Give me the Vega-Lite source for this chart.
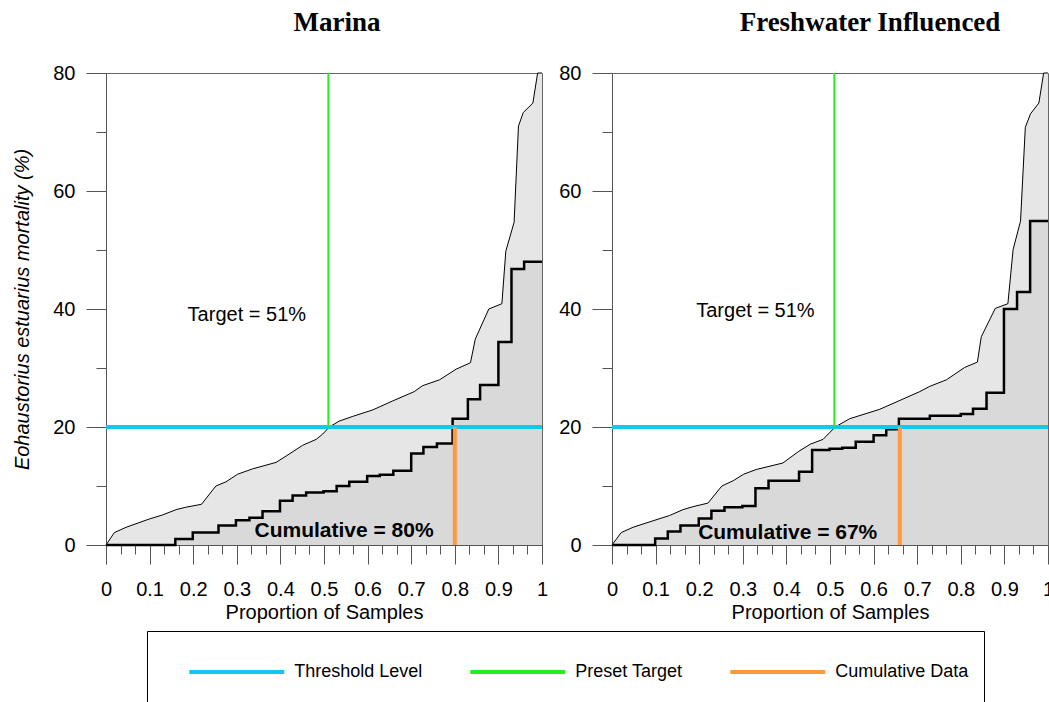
{
  "$schema": "https://vega.github.io/schema/vega-lite/v6.json",
  "padding": {"left": 12, "top": 8, "right": 0, "bottom": 0},
  "background": "white",
  "bounds": "flush",
  "spacing": 70,
  "config": {
    "view": {"stroke": "#666666", "strokeWidth": 1},
    "font": "Liberation Sans",
    "axis": {
      "grid": false, "domainColor": "#555555", "tickColor": "#555555",
      "labelColor": "black", "titleColor": "black",
      "labelFont": "Liberation Sans", "titleFont": "Liberation Sans",
      "labelFontSize": 20, "titleFontSize": 20, "titleFontWeight": "normal"
    },
    "title": {"font": "Liberation Serif", "fontSize": 27, "fontWeight": "bold", "color": "black", "anchor": "middle", "offset": 26}
  },
  "datasets": {
    "upper": [
      {"panel": "Marina", "x": 0, "y": 0}, {"panel": "Marina", "x": 0.019, "y": 2.1}, {"panel": "Marina", "x": 0.046, "y": 3.0}, {"panel": "Marina", "x": 0.099, "y": 4.4}, {"panel": "Marina", "x": 0.13, "y": 5.1}, {"panel": "Marina", "x": 0.161, "y": 6.0}, {"panel": "Marina", "x": 0.183, "y": 6.4}, {"panel": "Marina", "x": 0.219, "y": 6.9}, {"panel": "Marina", "x": 0.252, "y": 10.0}, {"panel": "Marina", "x": 0.275, "y": 10.7}, {"panel": "Marina", "x": 0.302, "y": 12.0}, {"panel": "Marina", "x": 0.336, "y": 12.9}, {"panel": "Marina", "x": 0.39, "y": 14.0}, {"panel": "Marina", "x": 0.42, "y": 15.4}, {"panel": "Marina", "x": 0.451, "y": 16.9}, {"panel": "Marina", "x": 0.482, "y": 17.9}, {"panel": "Marina", "x": 0.497, "y": 18.8}, {"panel": "Marina", "x": 0.512, "y": 20.0}, {"panel": "Marina", "x": 0.535, "y": 21.0}, {"panel": "Marina", "x": 0.566, "y": 21.8}, {"panel": "Marina", "x": 0.612, "y": 22.9}, {"panel": "Marina", "x": 0.657, "y": 24.4}, {"panel": "Marina", "x": 0.707, "y": 26.0}, {"panel": "Marina", "x": 0.726, "y": 27.0}, {"panel": "Marina", "x": 0.765, "y": 28.0}, {"panel": "Marina", "x": 0.803, "y": 29.8}, {"panel": "Marina", "x": 0.836, "y": 30.9}, {"panel": "Marina", "x": 0.847, "y": 34.9}, {"panel": "Marina", "x": 0.878, "y": 40.0}, {"panel": "Marina", "x": 0.908, "y": 40.9}, {"panel": "Marina", "x": 0.917, "y": 49.8}, {"panel": "Marina", "x": 0.936, "y": 54.7}, {"panel": "Marina", "x": 0.946, "y": 71.0}, {"panel": "Marina", "x": 0.957, "y": 73.3}, {"panel": "Marina", "x": 0.979, "y": 74.9}, {"panel": "Marina", "x": 0.99, "y": 80.0}, {"panel": "Marina", "x": 1.0, "y": 80.0},
      {"panel": "Fresh", "x": 0, "y": 0}, {"panel": "Fresh", "x": 0.021, "y": 2.1}, {"panel": "Fresh", "x": 0.048, "y": 3.0}, {"panel": "Fresh", "x": 0.094, "y": 4.1}, {"panel": "Fresh", "x": 0.132, "y": 5.0}, {"panel": "Fresh", "x": 0.163, "y": 6.0}, {"panel": "Fresh", "x": 0.186, "y": 6.5}, {"panel": "Fresh", "x": 0.22, "y": 7.1}, {"panel": "Fresh", "x": 0.252, "y": 10.0}, {"panel": "Fresh", "x": 0.278, "y": 10.9}, {"panel": "Fresh", "x": 0.302, "y": 12.0}, {"panel": "Fresh", "x": 0.331, "y": 12.8}, {"panel": "Fresh", "x": 0.392, "y": 13.9}, {"panel": "Fresh", "x": 0.427, "y": 15.8}, {"panel": "Fresh", "x": 0.455, "y": 17.1}, {"panel": "Fresh", "x": 0.484, "y": 17.9}, {"panel": "Fresh", "x": 0.512, "y": 20.0}, {"panel": "Fresh", "x": 0.545, "y": 21.4}, {"panel": "Fresh", "x": 0.614, "y": 23.0}, {"panel": "Fresh", "x": 0.706, "y": 26.0}, {"panel": "Fresh", "x": 0.729, "y": 26.9}, {"panel": "Fresh", "x": 0.767, "y": 28.0}, {"panel": "Fresh", "x": 0.809, "y": 30.1}, {"panel": "Fresh", "x": 0.838, "y": 31.0}, {"panel": "Fresh", "x": 0.847, "y": 35.3}, {"panel": "Fresh", "x": 0.879, "y": 40.1}, {"panel": "Fresh", "x": 0.908, "y": 40.9}, {"panel": "Fresh", "x": 0.92, "y": 50.1}, {"panel": "Fresh", "x": 0.937, "y": 54.9}, {"panel": "Fresh", "x": 0.948, "y": 70.8}, {"panel": "Fresh", "x": 0.96, "y": 73.1}, {"panel": "Fresh", "x": 0.979, "y": 74.9}, {"panel": "Fresh", "x": 0.99, "y": 80.0}, {"panel": "Fresh", "x": 1.0, "y": 80.0}
    ],
    "steps": [
      {"panel": "Marina", "x": 0, "y": 0}, {"panel": "Marina", "x": 0.159, "y": 1.0}, {"panel": "Marina", "x": 0.199, "y": 2.1}, {"panel": "Marina", "x": 0.258, "y": 3.3}, {"panel": "Marina", "x": 0.298, "y": 4.2}, {"panel": "Marina", "x": 0.329, "y": 4.6}, {"panel": "Marina", "x": 0.359, "y": 5.7}, {"panel": "Marina", "x": 0.399, "y": 7.5}, {"panel": "Marina", "x": 0.428, "y": 8.4}, {"panel": "Marina", "x": 0.459, "y": 8.9}, {"panel": "Marina", "x": 0.499, "y": 9.1}, {"panel": "Marina", "x": 0.529, "y": 10.0}, {"panel": "Marina", "x": 0.558, "y": 10.7}, {"panel": "Marina", "x": 0.599, "y": 11.7}, {"panel": "Marina", "x": 0.628, "y": 11.9}, {"panel": "Marina", "x": 0.659, "y": 12.6}, {"panel": "Marina", "x": 0.7, "y": 15.5}, {"panel": "Marina", "x": 0.728, "y": 16.6}, {"panel": "Marina", "x": 0.759, "y": 17.2}, {"panel": "Marina", "x": 0.795, "y": 21.4}, {"panel": "Marina", "x": 0.83, "y": 24.7}, {"panel": "Marina", "x": 0.858, "y": 27.1}, {"panel": "Marina", "x": 0.9, "y": 34.4}, {"panel": "Marina", "x": 0.93, "y": 46.8}, {"panel": "Marina", "x": 0.959, "y": 48.0}, {"panel": "Marina", "x": 1.0, "y": 48.0},
      {"panel": "Fresh", "x": 0, "y": 0}, {"panel": "Fresh", "x": 0.099, "y": 1.1}, {"panel": "Fresh", "x": 0.128, "y": 2.3}, {"panel": "Fresh", "x": 0.157, "y": 3.3}, {"panel": "Fresh", "x": 0.199, "y": 4.5}, {"panel": "Fresh", "x": 0.228, "y": 5.8}, {"panel": "Fresh", "x": 0.258, "y": 6.4}, {"panel": "Fresh", "x": 0.299, "y": 6.6}, {"panel": "Fresh", "x": 0.329, "y": 9.6}, {"panel": "Fresh", "x": 0.359, "y": 10.9}, {"panel": "Fresh", "x": 0.429, "y": 12.4}, {"panel": "Fresh", "x": 0.459, "y": 16.1}, {"panel": "Fresh", "x": 0.499, "y": 16.3}, {"panel": "Fresh", "x": 0.528, "y": 16.5}, {"panel": "Fresh", "x": 0.559, "y": 17.5}, {"panel": "Fresh", "x": 0.6, "y": 18.6}, {"panel": "Fresh", "x": 0.629, "y": 19.6}, {"panel": "Fresh", "x": 0.658, "y": 21.4}, {"panel": "Fresh", "x": 0.729, "y": 21.9}, {"panel": "Fresh", "x": 0.8, "y": 22.2}, {"panel": "Fresh", "x": 0.828, "y": 23.1}, {"panel": "Fresh", "x": 0.859, "y": 25.8}, {"panel": "Fresh", "x": 0.899, "y": 40.0}, {"panel": "Fresh", "x": 0.929, "y": 42.9}, {"panel": "Fresh", "x": 0.959, "y": 54.9}, {"panel": "Fresh", "x": 1.0, "y": 54.9}
    ],
    "refs": [
      {"panel": "Marina", "series": "Threshold Level", "x": 0, "x2": 1, "y": 20, "y2": 20},
      {"panel": "Marina", "series": "Preset Target", "x": 0.51, "x2": 0.51, "y": 20, "y2": 80},
      {"panel": "Marina", "series": "Cumulative Data", "x": 0.8, "x2": 0.8, "y": 0, "y2": 20},
      {"panel": "Fresh", "series": "Threshold Level", "x": 0, "x2": 1, "y": 20, "y2": 20},
      {"panel": "Fresh", "series": "Preset Target", "x": 0.51, "x2": 0.51, "y": 20, "y2": 80},
      {"panel": "Fresh", "series": "Cumulative Data", "x": 0.66, "x2": 0.66, "y": 0, "y2": 20}
    ],
    "notes": [
      {"panel": "Marina", "kind": "target", "label": "Target = 51%", "x": 0.323, "y": 38.0},
      {"panel": "Marina", "kind": "cumulative", "label": "Cumulative = 80%", "x": 0.546, "y": 1.4},
      {"panel": "Fresh", "kind": "target", "label": "Target = 51%", "x": 0.329, "y": 38.6},
      {"panel": "Fresh", "kind": "cumulative", "label": "Cumulative = 67%", "x": 0.403, "y": 1.0}
    ]
  },
  "hconcat": [
    {
      "width": 436, "height": 472,
      "title": {"text": "Marina", "dx": 13},
      "resolve": {"axis": {"x": "independent"}},
      "layer": [
        {
          "data": {"name": "upper"}, "transform": [{"filter": "datum.panel === 'Marina'"}],
          "mark": {"type": "area", "color": "#E6E6E6"},
          "encoding": {
            "x": {"field": "x", "type": "quantitative", "scale": {"domain": [0, 1], "nice": false},
              "axis": {"title": "Proportion of Samples", "orient": "bottom", "values": [0, 0.1, 0.2, 0.3, 0.4, 0.5, 0.6, 0.7, 0.8, 0.9, 1],
                "format": ".1~f", "tickSize": 19, "labelPadding": 15, "labelFlush": false, "labelOverlap": false, "titlePadding": 3}},
            "y": {"field": "y", "type": "quantitative", "stack": null, "scale": {"domain": [0, 80], "nice": false},
              "axis": {"title": "Eohaustorius estuarius mortality (%)", "titleFontStyle": "italic", "values": [0, 10, 20, 30, 40, 50, 60, 70, 80],
                "labelExpr": "datum.value % 20 === 0 ? datum.label : ''",
                "tickSize": {"condition": {"test": "datum.value % 20 === 0", "value": 20}, "value": 10},
                "labelPadding": 11, "labelOverlap": false, "titlePadding": 20}}
          }
        },
        {
          "data": {"name": "steps"}, "transform": [{"filter": "datum.panel === 'Marina'"}],
          "mark": {"type": "area", "color": "#D9D9D9", "interpolate": "step-after"},
          "encoding": {"x": {"field": "x", "type": "quantitative", "axis": null}, "y": {"field": "y", "type": "quantitative", "stack": null}}
        },
        {
          "data": {"name": "upper"}, "transform": [{"filter": "datum.panel === 'Marina'"}],
          "mark": {"type": "line", "color": "black", "strokeWidth": 1},
          "encoding": {
            "x": {"field": "x", "type": "quantitative",
              "axis": {"title": null, "orient": "bottom", "values": [0.0333333, 0.0666667, 0.1333333, 0.1666667, 0.2333333, 0.2666667, 0.3333333, 0.3666667, 0.4333333, 0.4666667, 0.5333333, 0.5666667, 0.6333333, 0.6666667, 0.7333333, 0.7666667, 0.8333333, 0.8666667, 0.9333333, 0.9666667],
                "tickSize": 9, "labels": false, "domain": false}},
            "y": {"field": "y", "type": "quantitative"}}
        },
        {
          "data": {"name": "steps"}, "transform": [{"filter": "datum.panel === 'Marina'"}],
          "mark": {"type": "line", "color": "black", "strokeWidth": 2.5, "interpolate": "step-after"},
          "encoding": {"x": {"field": "x", "type": "quantitative", "axis": null}, "y": {"field": "y", "type": "quantitative"}}
        },
        {
          "data": {"name": "refs"}, "transform": [{"filter": "datum.panel === 'Marina' && datum.series !== 'Preset Target'"}],
          "mark": {"type": "rule", "strokeWidth": 4},
          "encoding": {
            "x": {"field": "x", "type": "quantitative", "axis": null}, "x2": {"field": "x2"},
            "y": {"field": "y", "type": "quantitative"}, "y2": {"field": "y2"},
            "color": {"field": "series", "type": "nominal",
              "scale": {"domain": ["Threshold Level", "Preset Target", "Cumulative Data"], "range": ["#12C8F2", "#22EE22", "#FF9A3C"]},
              "legend": {"title": null, "orient": "none", "legendX": 41, "legendY": 558, "direction": "horizontal",
                "symbolType": "M-2,0L2,0M0,1.6L0,1.6", "symbolSize": 2256, "symbolStrokeWidth": 4, "symbolOffset": 48.75,
                "labelFont": "Liberation Sans", "labelFontSize": 18, "labelColor": "black", "labelOffset": 31.5, "labelLimit": 300,
                "columnPadding": 20, "padding": 15, "strokeColor": "black"}}
          }
        },
        {
          "data": {"name": "refs"}, "transform": [{"filter": "datum.panel === 'Marina' && datum.series === 'Preset Target'"}],
          "mark": {"type": "rule", "strokeWidth": 2},
          "encoding": {
            "x": {"field": "x", "type": "quantitative", "axis": null}, "x2": {"field": "x2"},
            "y": {"field": "y", "type": "quantitative"}, "y2": {"field": "y2"},
            "color": {"field": "series", "type": "nominal"}
          }
        },
        {
          "data": {"name": "notes"}, "transform": [{"filter": "datum.panel === 'Marina' && datum.kind === 'target'"}],
          "mark": {"type": "text", "font": "Liberation Sans", "fontSize": 20, "color": "black", "baseline": "alphabetic", "align": "center"},
          "encoding": {"x": {"field": "x", "type": "quantitative", "axis": null}, "y": {"field": "y", "type": "quantitative"}, "text": {"field": "label"}}
        },
        {
          "data": {"name": "notes"}, "transform": [{"filter": "datum.panel === 'Marina' && datum.kind === 'cumulative'"}],
          "mark": {"type": "text", "font": "Liberation Sans", "fontSize": 21, "fontWeight": "bold", "color": "black", "baseline": "alphabetic", "align": "center"},
          "encoding": {"x": {"field": "x", "type": "quantitative", "axis": null}, "y": {"field": "y", "type": "quantitative"}, "text": {"field": "label"}}
        }
      ]
    },
    {
      "width": 436, "height": 472,
      "title": {"text": "Freshwater Influenced", "dx": 40},
      "resolve": {"axis": {"x": "independent"}},
      "layer": [
        {
          "data": {"name": "upper"}, "transform": [{"filter": "datum.panel === 'Fresh'"}],
          "mark": {"type": "area", "color": "#E6E6E6"},
          "encoding": {
            "x": {"field": "x", "type": "quantitative", "scale": {"domain": [0, 1], "nice": false},
              "axis": {"title": "Proportion of Samples", "orient": "bottom", "values": [0, 0.1, 0.2, 0.3, 0.4, 0.5, 0.6, 0.7, 0.8, 0.9, 1],
                "format": ".1~f", "tickSize": 19, "labelPadding": 15, "labelFlush": false, "labelOverlap": false, "titlePadding": 3}},
            "y": {"field": "y", "type": "quantitative", "stack": null, "scale": {"domain": [0, 80], "nice": false},
              "axis": {"title": null, "values": [0, 10, 20, 30, 40, 50, 60, 70, 80],
                "labelExpr": "datum.value % 20 === 0 ? datum.label : ''",
                "tickSize": {"condition": {"test": "datum.value % 20 === 0", "value": 20}, "value": 10},
                "labelPadding": 11, "labelOverlap": false}}
          }
        },
        {
          "data": {"name": "steps"}, "transform": [{"filter": "datum.panel === 'Fresh'"}],
          "mark": {"type": "area", "color": "#D9D9D9", "interpolate": "step-after"},
          "encoding": {"x": {"field": "x", "type": "quantitative", "axis": null}, "y": {"field": "y", "type": "quantitative", "stack": null}}
        },
        {
          "data": {"name": "upper"}, "transform": [{"filter": "datum.panel === 'Fresh'"}],
          "mark": {"type": "line", "color": "black", "strokeWidth": 1},
          "encoding": {
            "x": {"field": "x", "type": "quantitative",
              "axis": {"title": null, "orient": "bottom", "values": [0.0333333, 0.0666667, 0.1333333, 0.1666667, 0.2333333, 0.2666667, 0.3333333, 0.3666667, 0.4333333, 0.4666667, 0.5333333, 0.5666667, 0.6333333, 0.6666667, 0.7333333, 0.7666667, 0.8333333, 0.8666667, 0.9333333, 0.9666667],
                "tickSize": 9, "labels": false, "domain": false}},
            "y": {"field": "y", "type": "quantitative"}}
        },
        {
          "data": {"name": "steps"}, "transform": [{"filter": "datum.panel === 'Fresh'"}],
          "mark": {"type": "line", "color": "black", "strokeWidth": 2.5, "interpolate": "step-after"},
          "encoding": {"x": {"field": "x", "type": "quantitative", "axis": null}, "y": {"field": "y", "type": "quantitative"}}
        },
        {
          "data": {"name": "refs"}, "transform": [{"filter": "datum.panel === 'Fresh' && datum.series !== 'Preset Target'"}],
          "mark": {"type": "rule", "strokeWidth": 4},
          "encoding": {
            "x": {"field": "x", "type": "quantitative", "axis": null}, "x2": {"field": "x2"},
            "y": {"field": "y", "type": "quantitative"}, "y2": {"field": "y2"},
            "color": {"field": "series", "type": "nominal",
              "scale": {"domain": ["Threshold Level", "Preset Target", "Cumulative Data"], "range": ["#12C8F2", "#22EE22", "#FF9A3C"]}}
          }
        },
        {
          "data": {"name": "refs"}, "transform": [{"filter": "datum.panel === 'Fresh' && datum.series === 'Preset Target'"}],
          "mark": {"type": "rule", "strokeWidth": 2},
          "encoding": {
            "x": {"field": "x", "type": "quantitative", "axis": null}, "x2": {"field": "x2"},
            "y": {"field": "y", "type": "quantitative"}, "y2": {"field": "y2"},
            "color": {"field": "series", "type": "nominal"}
          }
        },
        {
          "data": {"name": "notes"}, "transform": [{"filter": "datum.panel === 'Fresh' && datum.kind === 'target'"}],
          "mark": {"type": "text", "font": "Liberation Sans", "fontSize": 20, "color": "black", "baseline": "alphabetic", "align": "center"},
          "encoding": {"x": {"field": "x", "type": "quantitative", "axis": null}, "y": {"field": "y", "type": "quantitative"}, "text": {"field": "label"}}
        },
        {
          "data": {"name": "notes"}, "transform": [{"filter": "datum.panel === 'Fresh' && datum.kind === 'cumulative'"}],
          "mark": {"type": "text", "font": "Liberation Sans", "fontSize": 21, "fontWeight": "bold", "color": "black", "baseline": "alphabetic", "align": "center"},
          "encoding": {"x": {"field": "x", "type": "quantitative", "axis": null}, "y": {"field": "y", "type": "quantitative"}, "text": {"field": "label"}}
        }
      ]
    }
  ]
}
